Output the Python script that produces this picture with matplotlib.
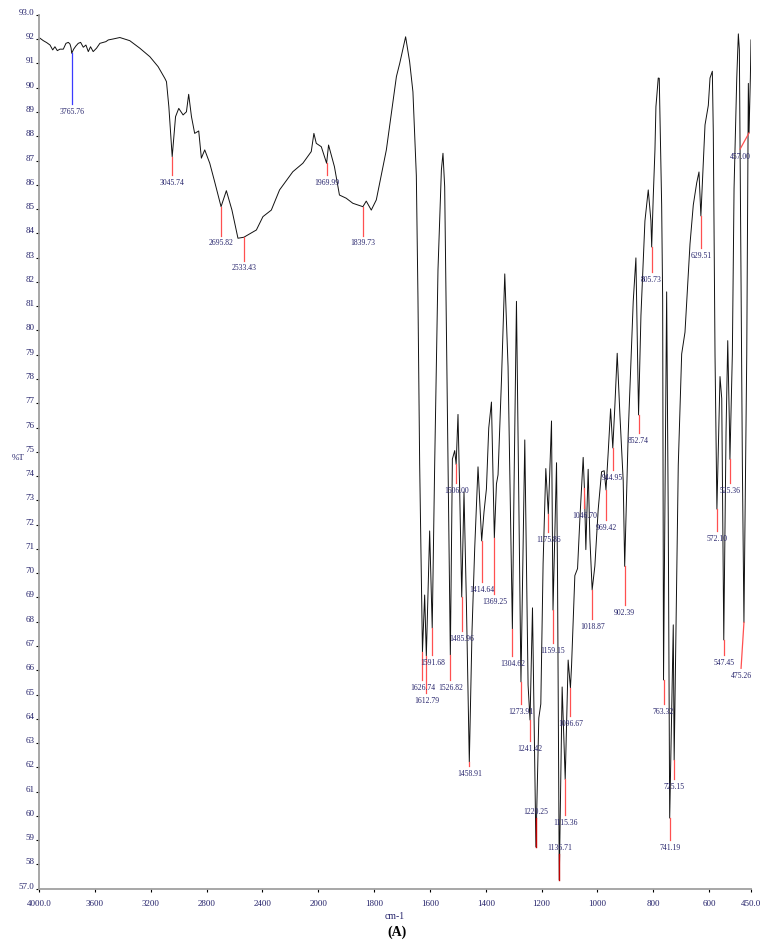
import numpy as np
import matplotlib
matplotlib.use('Agg')
import matplotlib.pyplot as plt
from matplotlib.transforms import ScaledTranslation

# spectrum: wavenumber (cm-1) and %T
wn = [4000, 3969, 3945, 3921, 3902, 3886, 3869, 3850, 3826, 3807, 3790, 3778, 3770, 3766,
      3752, 3736, 3719, 3702, 3683, 3664, 3647, 3631, 3612, 3588, 3564, 3540, 3521, 3504,
      3469, 3421, 3350, 3278, 3206, 3147, 3099, 3087, 3070, 3046, 3022, 2999, 2968, 2944,
      2928, 2908, 2885, 2856, 2837, 2813, 2777, 2742, 2696, 2658, 2618, 2575, 2533, 2443,
      2396, 2336, 2277, 2182, 2110, 2050, 2031, 2014, 1989, 1970, 1963, 1942, 1924, 1900,
      1876, 1840, 1828, 1810, 1792, 1756, 1720, 1708, 1687,
      1672.6, 1660.8, 1648.6, 1642.8, 1636.7, 1626.7, 1618.8, 1612.8, 1600.9, 1591.7,
      1582.9, 1571.1, 1558.9, 1553.2, 1547.1, 1537.4, 1526.8, 1519.5, 1511.2, 1506.0,
      1499.4, 1493.3, 1486.0, 1477.9, 1469.3, 1458.9, 1449.2, 1439.5, 1427.7, 1414.6,
      1406.2, 1397.6, 1389.3, 1379.6, 1369.2, 1361.7, 1356.0, 1343.8, 1331.9, 1320.1,
      1304.6, 1298.6, 1290.0, 1284.2, 1273.9, 1260.2, 1248.4, 1241.4, 1232.6, 1226.9,
      1220.3, 1210.0, 1202.8, 1194.6, 1184.9, 1175.9, 1164.5, 1159.1, 1146.5, 1142.9,
      1136.7, 1126.4, 1115.4, 1104.9, 1096.7, 1092.7, 1080.9, 1071.2, 1062.9, 1051.1,
      1046.7, 1041.5, 1033.2, 1027.1, 1018.9, 1009.2, 997.3, 985.2, 975.8, 969.4,
      961.5, 952.9, 945.0, 937.5, 929.2, 919.5, 907.7, 902.4, 889.8, 871.8,
      862.2, 852.7, 844.2, 829.9, 818.0, 808.4, 805.7, 800.1, 794.0, 790.5,
      782.2, 778.6, 770.0, 766.4, 763.3, 752.1, 746.3, 741.2, 728.4, 725.2,
      710.5, 698.3, 686.4, 668.5, 656.7, 644.5, 636.3, 629.5, 614.7, 602.9,
      596.8, 588.5, 585.0, 578.9, 572.1, 561.0, 554.8, 547.5, 539.4, 533.3,
      527.6, 525.4, 516.8, 510.7, 501.0, 495.3, 491.7, 486.7, 480.9, 475.3,
      465.2, 461.6, 459.5, 457.0, 452.3, 450.0]
tr = [92.07, 91.94, 91.86, 91.76, 91.56, 91.69, 91.53, 91.59, 91.59, 91.83, 91.87, 91.80, 91.63, 91.42,
      91.59, 91.72, 91.83, 91.87, 91.67, 91.76, 91.49, 91.69, 91.49, 91.63, 91.83, 91.87, 91.90, 91.97,
      92.01, 92.07, 91.94, 91.63, 91.28, 90.87, 90.39, 90.25, 89.22, 87.16, 88.81, 89.15, 88.88, 89.01,
      89.73, 88.81, 88.12, 88.22, 87.10, 87.44, 86.89, 86.13, 85.10, 85.76, 84.96, 83.80, 83.84, 84.14,
      84.69, 84.96, 85.79, 86.54, 86.89, 87.37, 88.12, 87.71, 87.57, 86.89, 87.64, 86.75, 85.58, 85.45,
      85.24, 85.10, 85.33, 84.96, 85.38, 87.44, 90.46, 91.01, 92.10,
      91.07, 89.83, 86.38, 81.35, 74.50, 66.75, 69.10, 66.59, 71.74, 67.74,
      74.50, 82.49, 86.61, 87.30, 85.92, 76.77, 66.63, 74.70, 75.05, 74.48,
      76.54, 73.35, 69.02, 73.35, 68.77, 62.22, 67.62, 71.04, 74.38, 71.33,
      72.53, 73.47, 75.98, 77.05, 71.45, 73.68, 74.05, 77.92, 82.33, 78.50,
      67.70, 73.68, 81.20, 75.61, 65.52, 75.49, 65.39, 63.95, 68.57, 64.03,
      58.72, 64.03, 64.61, 70.40, 74.31, 72.44, 76.27, 68.48, 74.55, 69.81,
      57.36, 65.31, 61.50, 66.42, 65.27, 66.19, 69.90, 70.19, 72.23, 74.77,
      73.51, 70.97, 74.28, 71.45, 69.31, 70.30, 72.62, 74.18, 74.22, 73.43,
      74.96, 76.77, 75.16, 76.91, 79.06, 76.52, 73.80, 70.28, 75.74, 81.20,
      82.99, 76.52, 80.61, 84.51, 85.79, 84.51, 83.44, 85.50, 87.44, 89.22,
      90.40, 90.39, 85.17, 81.26, 65.60, 81.59, 72.19, 59.91, 67.87, 62.30,
      74.45, 79.03, 79.93, 83.56, 85.17, 86.08, 86.53, 84.72, 88.47, 89.27,
      90.40, 90.68, 88.14, 79.01, 72.64, 78.10, 77.19, 67.25, 75.82, 79.58,
      76.28, 74.69, 79.03, 85.85, 90.40, 92.22, 91.56, 83.57, 74.46, 67.97,
      79.01, 85.85, 90.18, 88.14, 90.40, 91.97]

# peak picks: label text, %T at the curve, %T of the label
peak_txt = ["3765.76", "3045.74", "2695.82", "2533.43", "1969.99", "1839.73", "1626.74",
            "1612.79", "1591.68", "1526.82", "1506.00", "1485.96", "1458.91", "1414.64",
            "1369.25", "1304.62", "1273.91", "1241.42", "1220.25", "1175.86", "1159.15",
            "1136.71", "1115.36", "1096.67", "1046.70", "1018.87", "969.42", "944.95",
            "902.39", "852.74", "805.73", "763.32", "741.19", "725.15", "629.51", "572.10",
            "547.45", "525.36", "475.26", "457.00"]
peak_T = [91.42, 87.16, 85.10, 83.84, 86.89, 85.10, 66.75, 66.59, 67.74, 66.63, 74.48,
          69.02, 62.22, 71.33, 71.45, 67.70, 65.52, 63.95, 58.72, 72.44, 68.48, 57.36,
          61.50, 65.27, 73.51, 69.31, 73.43, 75.16, 70.28, 76.52, 83.44, 65.60, 59.91,
          62.30, 84.72, 72.64, 67.25, 74.69, 67.97, 88.14]
label_T = [89.01, 86.09, 83.59, 82.56, 86.09, 83.59, 65.27, 64.75, 66.30, 65.27, 73.40,
           67.30, 61.73, 69.31, 68.83, 66.26, 64.28, 62.76, 60.16, 71.37, 66.81, 58.68,
           59.71, 63.79, 72.36, 67.80, 71.87, 73.93, 68.36, 75.46, 82.08, 64.28, 58.68,
           61.20, 83.07, 71.40, 66.30, 73.40, 65.76, 87.15]
label_wn = {"475.26": 485.6, "457.00": 489.2}

xticks = [4000, 3600, 3200, 2800, 2400, 2000, 1800, 1600, 1400, 1200, 1000, 800, 600, 450]
xlabels = ["4000.0", "3600", "3200", "2800", "2400", "2000", "1800", "1600", "1400",
           "1200", "1000", "800", "600", "450.0"]
yticks = list(range(57, 94))
ylabels = ["57.0"] + [str(v) for v in range(58, 93)] + ["93.0"]

navy = '#25236b'
font = 'Liberation Serif'


def fwd(x):
    # instrument scale: 4000-2000 is drawn at half the density of 2000-450
    x = np.asarray(x, dtype=float)
    return np.where(x > 2000, 2000 + (x - 2000) / 2.0, x)


def inv(y):
    y = np.asarray(y, dtype=float)
    return np.where(y > 2000, 2000 + (y - 2000) * 2.0, y)


fig = plt.figure(figsize=(7.65, 9.46), dpi=100)
ax = fig.add_axes([0.0510, 0.0606, 0.9307, 0.9236])
ax.set_xscale('function', functions=(fwd, inv))
ax.plot(wn, tr, color='#111111', lw=0.7)
ax.set_xlim(4000, 450)
ax.set_ylim(57, 93)

for sp in ['top', 'right']:
    ax.spines[sp].set_visible(False)
for sp in ['left', 'bottom']:
    ax.spines[sp].set_color('#a0a0a0')
    ax.spines[sp].set_linewidth(1.3)

ax.set_xticks(xticks)
ax.set_xticklabels(xlabels)
ax.set_yticks(yticks)
ax.set_yticklabels(ylabels)
ax.xaxis.set_minor_locator(matplotlib.ticker.NullLocator())
ax.tick_params(axis='both', direction='out', length=2, width=0.8, color='black',
               labelsize=6.5, labelcolor=navy)
ax.tick_params(axis='x', pad=6)
ax.tick_params(axis='y', pad=1.5)
for lab in ax.get_xticklabels() + ax.get_yticklabels():
    lab.set_family(font)
up = ScaledTranslation(0, 3 / 100, fig.dpi_scale_trans)
for lab in ax.get_yticklabels():
    lab.set_transform(lab.get_transform() + up)

for txt, pT, lT in zip(peak_txt, peak_T, label_T):
    p = float(txt)
    lx = label_wn.get(txt, p)
    col = '#3b3bff' if txt == "3765.76" else '#ff5050'
    if lT < pT:
        ax.plot([p, lx], [pT, lT + 0.32], color=col, lw=0.9)
    else:
        ax.plot([p, p], [lT - 0.25, pT], color='#c00000', lw=1.0)
    ax.text(lx, lT, txt, ha='center', va='center', fontsize=5.5,
            family=font, color=navy)

fig.text(18.5 / 765, 1 - 458 / 946, '%T', ha='center', va='center', fontsize=6.5,
         family=font, color=navy)
fig.text(395 / 765, 1 - 916 / 946, 'cm-1', ha='center', va='center', fontsize=7,
         family=font, color=navy)
fig.text(397 / 765, 1 - 932 / 946, '(A)', ha='center', va='center', fontsize=10,
         family=font, weight='bold', color='black')

fig.savefig('out.png', dpi=100)
